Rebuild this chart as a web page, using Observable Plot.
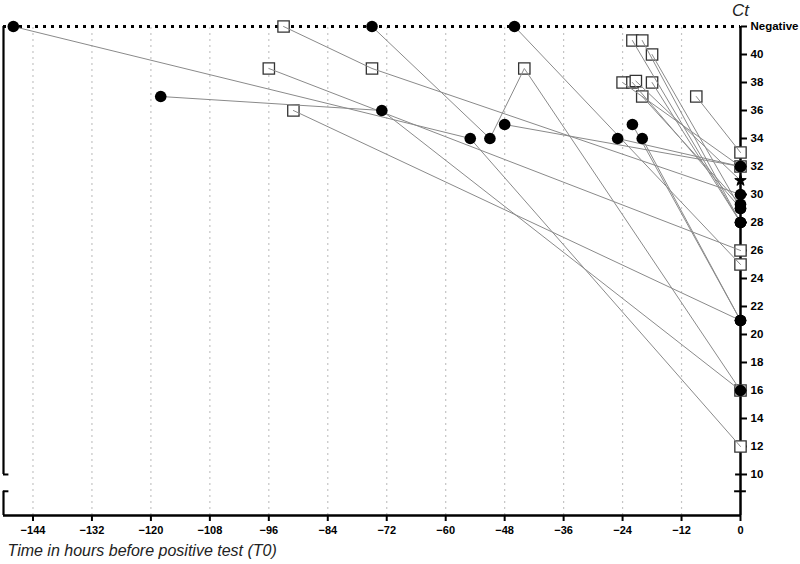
<!DOCTYPE html>
<html><head><meta charset="utf-8">
<script src="https://cdn.jsdelivr.net/npm/d3@7"></script>
<script src="https://cdn.jsdelivr.net/npm/@observablehq/plot@0.6"></script>
<style>body{margin:0;background:#fff;} svg{display:block}</style>
</head><body><div id="chart"></div>
<script>
const NEG = 42;
// one entry per test: patient id, hours before T0, Ct value (42 = Negative), marker ("c" circle, "s" square, "x" star)
const patient = [1,1,1, 2,2,2,2, 3,3, 20,20, 4,4,4, 5,5,5, 6,6, 7,7, 8,8, 9,9, 10,10, 11,11, 12,12, 13,13, 14,14, 15,15, 16,16, 17,17, 18,18, 19,19];
const hours   = [-148,-55,0, -75,-51,-44,0, -46,0, -25,0, -118,-73,0, -93,-75,0, -96,0, -91,0, -48,0, -9,0, -22,0, -20,0, -18,0, -24,0, -22,0, -21.3,0, -18,0, -20,0, -22,0, -20,0];
const ct      = [42,34,12, 42,34,39,16, 42,25, 34,32, 37,36,16, 42,39,30, 39,26, 36,21, 35,32, 37,33, 41,28, 41,28, 40,29, 38,32, 38,29, 38.1,31, 38,28, 37,29.3, 35,21, 34,21];
const marker  = ["c","c","s", "c","c","s","s", "c","s", "c","c", "c","c","c", "s","s","c", "s","s", "s","c", "c","s", "s","s", "s","c", "s","c", "s","c", "s","c", "s","c", "s","x", "s","c", "s","c", "c","c", "c","c"];

const xTicks = [-144,-132,-120,-108,-96,-84,-72,-60,-48,-36,-24,-12,0];
const yTicks = [10,12,14,16,18,20,22,24,26,28,30,32,34,36,38,40,42];
const yBreak = 8.8;
const xMin = -150, yMin = 7.07;

const rows = patient.map((p,i)=>({patient:p, h:hours[i], ct:ct[i], m:marker[i]}));

const chart = Plot.plot({
  width: 800, height: 564,
  marginLeft: 3, marginRight: 60, marginTop: 26, marginBottom: 49,
  x: {domain: [xMin, 0]},
  y: {domain: [yMin, NEG]},
  style: {fontFamily: "'Liberation Sans', Arial, sans-serif", background: "white"},
  marks: [
    Plot.ruleX(xTicks.filter(d => d < 0), {y1: yMin, y2: NEG, stroke: "#c4c4c4", strokeWidth: 1.2, strokeDasharray: "2,4"}),
    Plot.ruleY([NEG], {x1: xMin, x2: 0, stroke: "black", strokeWidth: 3, strokeDasharray: "3,5"}),
    // broken left axis
    Plot.ruleX([{a: 10, b: NEG}, {a: yMin, b: yBreak}], {x: () => xMin, y1: "a", y2: "b", strokeWidth: 2.2}),
    Plot.ruleY([10, yBreak], {x1: xMin, x2: xMin + 1.1, strokeWidth: 2}),
    Plot.ruleY([yMin], {x1: xMin, x2: 0, strokeWidth: 2.5}),
    Plot.ruleX([0], {y1: yMin, y2: NEG, strokeWidth: 2.5}),
    Plot.ruleY([yBreak], {x1: -1.2, x2: 1.2, strokeWidth: 2}),
    Plot.ruleY([10], {x1: -1.0, x2: 0, strokeWidth: 2}),
    Plot.axisX({ticks: xTicks, tickSize: 6, tickPadding: 5, strokeWidth: 2, fontWeight: "bold", fontSize: 11, label: null}),
    Plot.axisY({anchor: "right", ticks: yTicks, tickSize: 6, tickPadding: 4, strokeWidth: 2, fontWeight: "bold", fontSize: 11.5, label: null,
      tickFormat: d => d === NEG ? "Negative" : String(d)}),
    Plot.dot(rows.filter(d => d.m === "s"), {x: "h", y: "ct", symbol: "square", r: 6.4, fill: "white", stroke: "#333", strokeWidth: 1.3}),
    Plot.line(rows, {x: "h", y: "ct", z: "patient", stroke: "#8a8a8a", strokeWidth: 1}),
    Plot.dot(rows.filter(d => d.m === "c"), {x: "h", y: "ct", r: 5.8, fill: "black", stroke: "none"}),
    Plot.dot(rows.filter(d => d.m === "x"), {x: "h", y: "ct", symbol: "star", r: 3.6, fill: "black", stroke: "black", strokeWidth: 1}),
    Plot.text(["Ct"], {x: 0, y: NEG, dy: -16, fontSize: 17, fontStyle: "italic", fill: "#222"}),
    Plot.text(["Time in hours before positive test (T0)"], {frameAnchor: "bottom-left", dx: 4, dy: 40, textAnchor: "start", fontSize: 16, fontStyle: "italic", fill: "#222"})
  ]
});
document.getElementById("chart").appendChild(chart);
</script>
</body></html>
